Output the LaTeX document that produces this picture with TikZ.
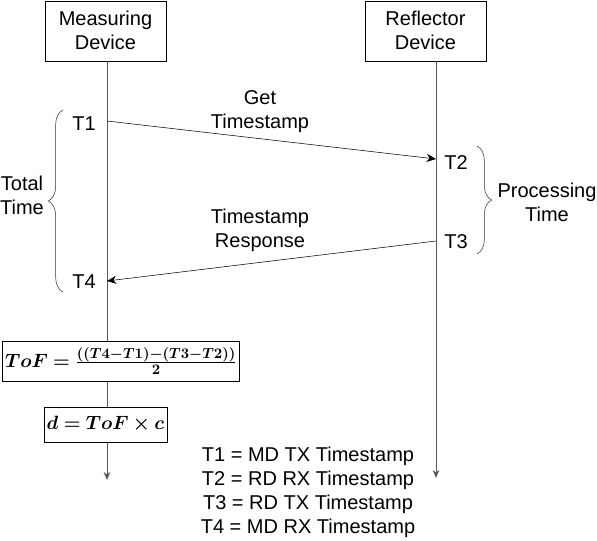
\documentclass[tikz,border=0pt]{standalone}
\usepackage{fontspec}
\setmainfont{Liberation Sans}
\usepackage{amsmath,bm}
\usetikzlibrary{arrows.meta,positioning,decorations.pathreplacing}

\begin{document}
\begin{tikzpicture}[
  x=0.75pt, y=-0.75pt,
  font=\fontsize{15}{18}\selectfont, align=center,
  dev/.style={draw, minimum width=90.75pt, minimum height=45pt, inner sep=0pt},
  eqbox/.style={draw, fill=white, inner xsep=2pt, inner ysep=0pt},
  life/.style={black!65, semithick, -{Stealth[length=6pt,width=5pt]}},
  msg/.style={-{Stealth[length=7pt,width=6pt]}},
  brc/.style={decorate, black!80, decoration={brace, amplitude=11pt}}
]
\useasboundingbox (0,0) rectangle (597,540);
\node[dev, anchor=north] (md) at (105.5,0.5) {Measuring\\Device};
\node[dev, anchor=north] (rd) at (425.5,0.5) {Reflector\\Device};
% lifelines
\coordinate (mdend) at (107,480);
\coordinate (rdend) at (436,478);
\draw[life] (md.south -| mdend) -- (mdend);
\draw[life] (rd.south -| rdend) -- (rdend);
% timestamps
\coordinate (t1) at (107,121);
\coordinate (t2) at (436,159);
\coordinate (t3) at (436,241);
\coordinate (t4) at (107,281);
\node (lt1) at (84,124) {T1};
\node (lt2) at (456,163) {T2};
\node (lt3) at (456,242) {T3};
\node (lt4) at (84,282) {T4};
\draw[msg] (t1) -- (t2);
\draw[msg] (t3) -- (t4);
\node (get) at (260,112) {Get\\Timestamp};
\node (resp) at (260,230) {Timestamp\\Response};
% braces
\coordinate (ttop) at (63,110);
\coordinate (tbot) at (63,292);
\coordinate (ptop) at (477,146);
\coordinate (pbot) at (477,254);
\draw[brc] (tbot) -- (ttop);
\draw[brc] (ptop) -- (pbot);
\node (total) at (22,195) {Total\\Time};
\node (proc) at (547,202) {Processing\\Time};
% equations
\node[eqbox, minimum height=30pt] (tof) at (121,361) {$\boldsymbol{ToF = \frac{((T4-T1)-(T3-T2))}{2}}$};
\node[eqbox, minimum height=26.25pt] (dist) at (105.5,424.5) {$\boldsymbol{d = ToF\times c}$};
\node (legend) at (308,492) {\fontsize{15}{17.5}\selectfont T1 = MD TX Timestamp\\T2 = RD RX Timestamp\\T3 = RD TX Timestamp\\T4 = MD RX Timestamp};
\end{tikzpicture}
\end{document}
